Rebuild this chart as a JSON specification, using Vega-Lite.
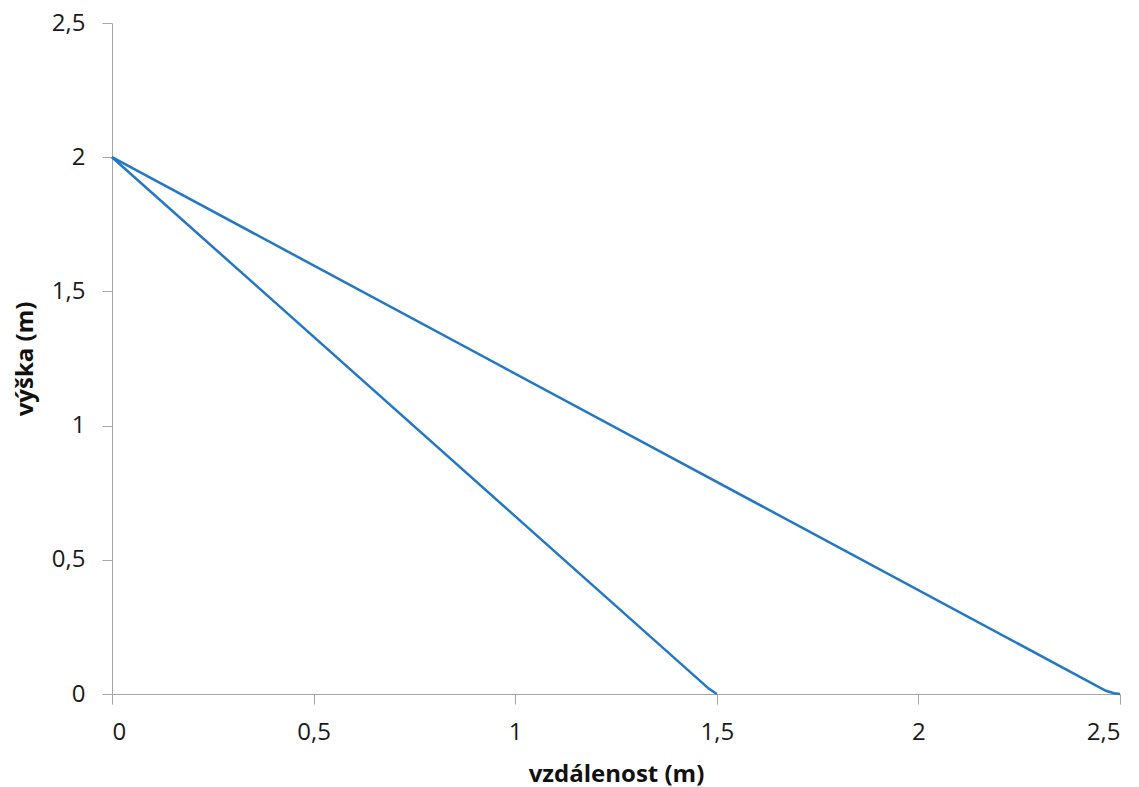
{
  "$schema": "https://vega.github.io/schema/vega-lite/v6.json",
  "width": 1008,
  "height": 671,
  "autosize": {"type": "none"},
  "padding": {"left": 112, "top": 23, "right": 19, "bottom": 93},
  "background": "white",
  "config": {"view": {"stroke": null}, "font": "Open Sans"},
  "data": {
    "values": [
      {"x": 0, "y": 2, "s": "a", "o": 0},
      {"x": 1.48, "y": 0.02, "s": "a", "o": 1},
      {"x": 1.5, "y": 0, "s": "a", "o": 2},
      {"x": 0, "y": 2, "s": "b", "o": 0},
      {"x": 2.465, "y": 0.012, "s": "b", "o": 1},
      {"x": 2.485, "y": 0.003, "s": "b", "o": 2},
      {"x": 2.5, "y": 0, "s": "b", "o": 3}
    ]
  },
  "mark": {"type": "line", "color": "#2277C6", "strokeWidth": 2.5, "interpolate": "linear"},
  "encoding": {
    "x": {
      "field": "x", "type": "quantitative",
      "scale": {"domain": [0, 2.5], "nice": false, "zero": true},
      "axis": {
        "values": [0, 0.5, 1, 1.5, 2, 2.5],
        "labelExpr": "replace(toString(datum.value), '.', ',')",
        "title": "vzdálenost (m)",
        "grid": false,
        "domainColor": "#A6A6A6", "tickColor": "#A6A6A6",
        "tickSize": 10, "labelPadding": 16,
        "labelFontSize": 24, "labelColor": "#1a1a1a",
        "titleFontSize": 24, "titleFontWeight": "bold", "titleColor": "#111",
        "titlePadding": 18
      }
    },
    "y": {
      "field": "y", "type": "quantitative",
      "scale": {"domain": [0, 2.5], "nice": false},
      "axis": {
        "values": [0, 0.5, 1, 1.5, 2, 2.5],
        "labelExpr": "replace(toString(datum.value), '.', ',')",
        "title": "výška (m)",
        "grid": false,
        "domainColor": "#A6A6A6", "tickColor": "#A6A6A6",
        "tickSize": 10, "labelPadding": 17,
        "labelFontSize": 24, "labelColor": "#1a1a1a",
        "titleFontSize": 24, "titleFontWeight": "bold", "titleColor": "#111",
        "titlePadding": 14
      }
    },
    "detail": {"field": "s"},
    "order": {"field": "o"}
  }
}
